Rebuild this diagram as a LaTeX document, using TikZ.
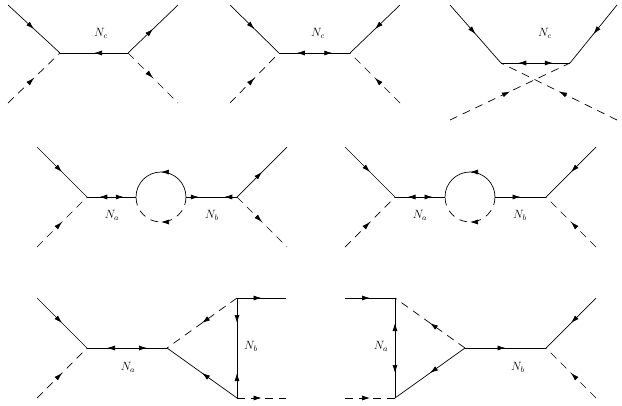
\documentclass[tikz,border=0pt]{standalone}
\usetikzlibrary{decorations.markings,arrows.meta,calc}
\begin{document}
\begin{tikzpicture}[x=1pt,y=1pt,
  f/.style={line width=0.7pt},
  s/.style={line width=0.7pt,dash pattern=on 8pt off 6pt},
  mid/.style={postaction={decorate,decoration={markings,mark=at position 0.5 with {\pgfsetdash{}{0pt}\arrow{Latex[length=8pt,width=5pt]}}}}},
  lab/.style={font=\large}]
\useasboundingbox (0,0) rectangle (622,-405);
% ---------- Row 1, diagram 1
\coordinate (a1) at (60,-53); \coordinate (b1) at (128,-53);
\coordinate (a1t) at (8,-5); \coordinate (a1b) at (8,-103);
\coordinate (b1t) at (178,-5); \coordinate (b1b) at (178,-103);
\draw[f,mid] (a1t) -- (a1); \draw[f,mid] (b1) -- (b1t);
\draw[s,mid] (a1b) -- (a1); \draw[s,mid] (b1) -- (b1b);
\draw[f,mid] (b1) -- (a1);
\node[lab] (nc1) at (101,-33) {$N_c$};
% ---------- Row 1, diagram 2
\coordinate (a2) at (279,-53); \coordinate (b2) at (350,-53);
\coordinate (m2) at ($(a2)!0.5!(b2)$);
\coordinate (a2t) at (230,-5); \coordinate (a2b) at (230,-103);
\coordinate (b2t) at (400,-5); \coordinate (b2b) at (400,-103);
\draw[f,mid] (a2t) -- (a2); \draw[f,mid] (b2t) -- (b2);
\draw[s,mid] (a2b) -- (a2); \draw[s,mid] (b2b) -- (b2);
\draw[f,mid] (m2) -- (a2); \draw[f,mid] (m2) -- (b2);
\node[lab] (nc2) at (318,-33) {$N_c$};
% ---------- Row 1, diagram 3
\coordinate (a3) at (501,-63); \coordinate (b3) at (570,-63);
\coordinate (m3) at ($(a3)!0.5!(b3)$);
\coordinate (a3t) at (450,-5); \coordinate (a3b) at (450,-120);
\coordinate (b3t) at (617,-5); \coordinate (b3b) at (617,-120);
\draw[f,mid] (a3t) -- (a3); \draw[f,mid] (b3t) -- (b3);
\draw[f,mid] (m3) -- (a3); \draw[f,mid] (m3) -- (b3);
\draw[s,mid] (b3b) -- (a3); \draw[s,mid] (a3b) -- (b3);
\node[lab] (nc3) at (545,-33) {$N_c$};
% ---------- Row 2, left
\coordinate (a4) at (87,-197); \coordinate (l4) at (136,-197);
\coordinate (r4) at (186,-197); \coordinate (b4) at (237,-197);
\coordinate (m4a) at ($(a4)!0.5!(l4)$); \coordinate (m4b) at ($(r4)!0.5!(b4)$);
\coordinate (a4t) at (37,-147); \coordinate (a4b) at (37,-247);
\coordinate (b4t) at (287,-147); \coordinate (b4b) at (287,-247);
\draw[f,mid] (a4t) -- (a4); \draw[f,mid] (b4) -- (b4t);
\draw[s,mid] (a4b) -- (a4); \draw[s,mid] (b4) -- (b4b);
\draw[f,mid] (m4a) -- (a4); \draw[f,mid] (m4a) -- (l4);
\draw[f,mid] (r4) -- (m4b); \draw[f,mid] (b4) -- (m4b);
\draw[f,mid] (r4) arc[start angle=0,end angle=180,radius=25];
\draw[s,mid] (r4) arc[start angle=0,end angle=-180,radius=25];
\node[lab] (na4) at (112,-215) {$N_a$};
\node[lab] (nb4) at (212,-215) {$N_b$};
% ---------- Row 2, right
\coordinate (a5) at (395,-197); \coordinate (l5) at (445,-197);
\coordinate (r5) at (495,-197); \coordinate (b5) at (546,-197);
\coordinate (m5a) at ($(a5)!0.5!(l5)$);
\coordinate (a5t) at (345,-147); \coordinate (a5b) at (345,-247);
\coordinate (b5t) at (596,-147); \coordinate (b5b) at (596,-247);
\draw[f,mid] (a5t) -- (a5); \draw[f,mid] (b5t) -- (b5);
\draw[s,mid] (a5b) -- (a5); \draw[s,mid] (b5b) -- (b5);
\draw[f,mid] (m5a) -- (a5); \draw[f,mid] (m5a) -- (l5);
\draw[f,mid] (r5) -- (b5);
\draw[f,mid] (r5) arc[start angle=0,end angle=180,radius=25];
\draw[s,mid] (r5) arc[start angle=0,end angle=-180,radius=25];
\node[lab] (na5) at (420,-215) {$N_a$};
\node[lab] (nb5) at (520,-215) {$N_b$};
% ---------- Row 3, left
\coordinate (a6) at (87,-348); \coordinate (c6) at (167,-348);
\coordinate (m6) at ($(a6)!0.5!(c6)$);
\coordinate (t6) at (237,-298); \coordinate (d6) at (237,-398);
\coordinate (v6) at (237,-348);
\coordinate (t6e) at (286,-298); \coordinate (d6e) at (286,-398);
\coordinate (a6t) at (37,-298); \coordinate (a6b) at (37,-398);
\draw[f,mid] (a6t) -- (a6); \draw[s,mid] (a6b) -- (a6);
\draw[f,mid] (m6) -- (a6); \draw[f,mid] (m6) -- (c6);
\draw[s,mid] (t6) -- (c6); \draw[f,mid] (d6) -- (c6);
\draw[f,mid] (t6) -- (t6e); \draw[s,mid] (d6) -- (d6e);
\draw[f,mid] (t6) -- (v6); \draw[f,mid] (d6) -- (v6);
\node[lab] (na6) at (128,-367) {$N_a$};
\node[lab] (nb6) at (251,-346) {$N_b$};
% ---------- Row 3, right
\coordinate (t7) at (395,-298); \coordinate (d7) at (395,-398);
\coordinate (v7) at (395,-348);
\coordinate (c7) at (465,-348); \coordinate (b7) at (546,-348);
\coordinate (t7s) at (345,-298); \coordinate (d7s) at (345,-398);
\coordinate (b7t) at (596,-298); \coordinate (b7b) at (596,-398);
\draw[f,mid] (t7s) -- (t7); \draw[s,mid] (d7s) -- (d7);
\draw[f,mid] (v7) -- (t7); \draw[f,mid] (v7) -- (d7);
\draw[s,mid] (c7) -- (t7); \draw[f,mid] (c7) -- (d7);
\draw[f,mid] (c7) -- (b7);
\draw[f,mid] (b7t) -- (b7); \draw[s,mid] (b7b) -- (b7);
\node[lab] (na7) at (381,-346) {$N_a$};
\node[lab] (nb7) at (518,-367) {$N_b$};
\end{tikzpicture}
\end{document}
